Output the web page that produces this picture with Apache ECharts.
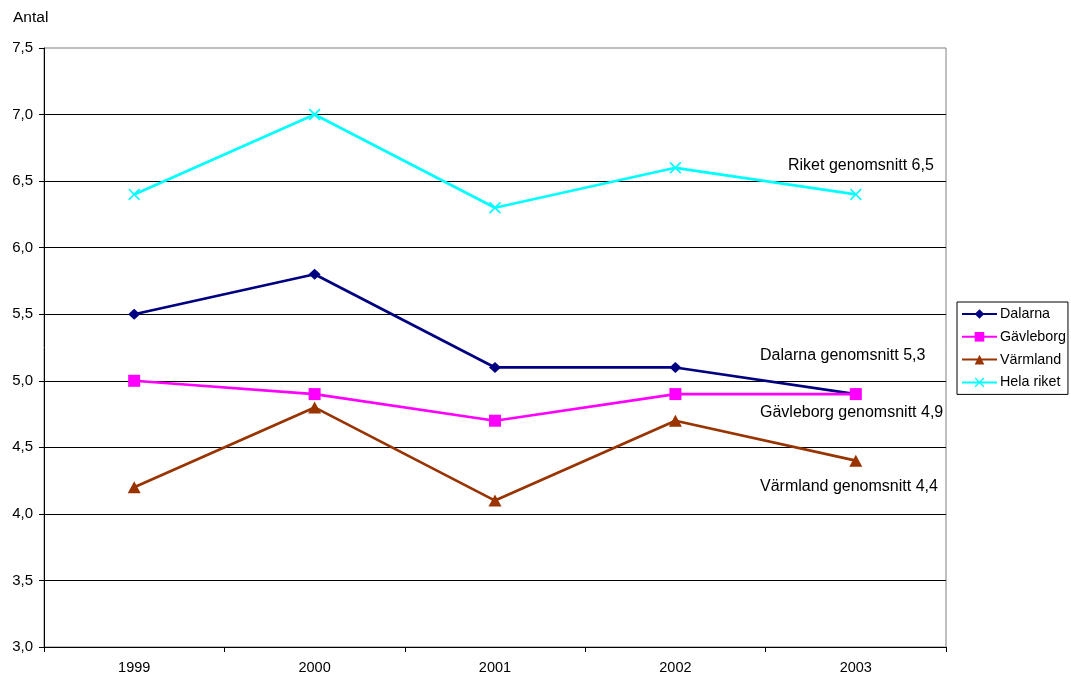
<!DOCTYPE html>
<html><head><meta charset="utf-8">
<script src="https://cdn.jsdelivr.net/npm/echarts@6/dist/echarts.min.js"></script>
<style>html,body{margin:0;padding:0;background:#fff}#c{width:1071px;height:677px}</style>
</head><body><div id="c"></div>
<script>
const years = ['1999','2000','2001','2002','2003'];
const dalarna = [5.5, 5.8, 5.1, 5.1, 4.9];
const gavleborg = [5.0, 4.9, 4.7, 4.9, 4.9];
const varmland = [4.2, 4.8, 4.1, 4.7, 4.4];
const helaRiket = [6.4, 7.0, 6.3, 6.6, 6.4];
const seriesNames = ['Dalarna','Gävleborg','Värmland','Hela riket'];
const annotations = ['Riket genomsnitt 6,5','Dalarna genomsnitt 5,3','Gävleborg genomsnitt 4,9','Värmland genomsnitt 4,4'];
const yTitle = 'Antal';

const font = 'Liberation Sans, Arial, sans-serif';
const xShape = 'path://M0,1L1,0L5,4L9,0L10,1L6,5L10,9L9,10L5,6L1,10L0,9L4,5Z';

function mk(name, data, color, symbol, size) {
  return {name, type:'line', data, color, symbol, symbolSize:size,
    lineStyle:{width:2.7, color}, itemStyle:{color}, animation:false};
}

const chart = echarts.init(document.getElementById('c'));
chart.setOption({
  animation:false,
  textStyle:{fontFamily:font},
  grid:{left:44, right:125, top:48, bottom:30, show:true, borderColor:'#808080', borderWidth:1},
  xAxis:{type:'category', data:years, boundaryGap:true,
    axisLine:{lineStyle:{color:'#000', width:1}},
    axisTick:{show:true, length:5, lineStyle:{color:'#000'}},
    axisLabel:{color:'#000', fontSize:14.5, margin:13, fontFamily:font}},
  yAxis:{type:'value', min:3, max:7.5, interval:0.5,
    axisLine:{show:true, lineStyle:{color:'#000', width:1}},
    axisTick:{show:true, length:5, lineStyle:{color:'#000'}},
    axisLabel:{color:'#000', fontSize:15, margin:11, fontFamily:font,
      formatter:v=>v.toFixed(1).replace('.',',')},
    splitLine:{show:true, showMaxLine:false, lineStyle:{color:'#000', width:1}}},
  legend:{orient:'vertical', left:957, top:302, padding:[5,2,5,4],
    borderColor:'#000', borderWidth:1, itemWidth:35, itemHeight:12, itemGap:8.8,
    textStyle:{fontSize:14.3, color:'#000', fontFamily:font, padding:[0,0,0,-2]},
    data:seriesNames},
  series:[
    mk(seriesNames[0], dalarna, '#000080', 'diamond', [12,11]),
    mk(seriesNames[1], gavleborg, '#FF00FF', 'rect', 12),
    mk(seriesNames[2], varmland, '#993300', 'triangle', [13,12]),
    mk(seriesNames[3], helaRiket, '#00FFFF', xShape, 12)
  ],
  graphic:[
    {type:'text', left:13, top:10, style:{text:yTitle, font:'15.5px '+font, fill:'#000'}},
    {type:'text', left:788, top:158, style:{text:annotations[0], font:'16px '+font, fill:'#000'}},
    {type:'text', left:760, top:348, style:{text:annotations[1], font:'16px '+font, fill:'#000'}},
    {type:'text', left:760, top:405, style:{text:annotations[2], font:'16px '+font, fill:'#000'}},
    {type:'text', left:760, top:479, style:{text:annotations[3], font:'16px '+font, fill:'#000'}}
  ]
});
</script></body></html>
